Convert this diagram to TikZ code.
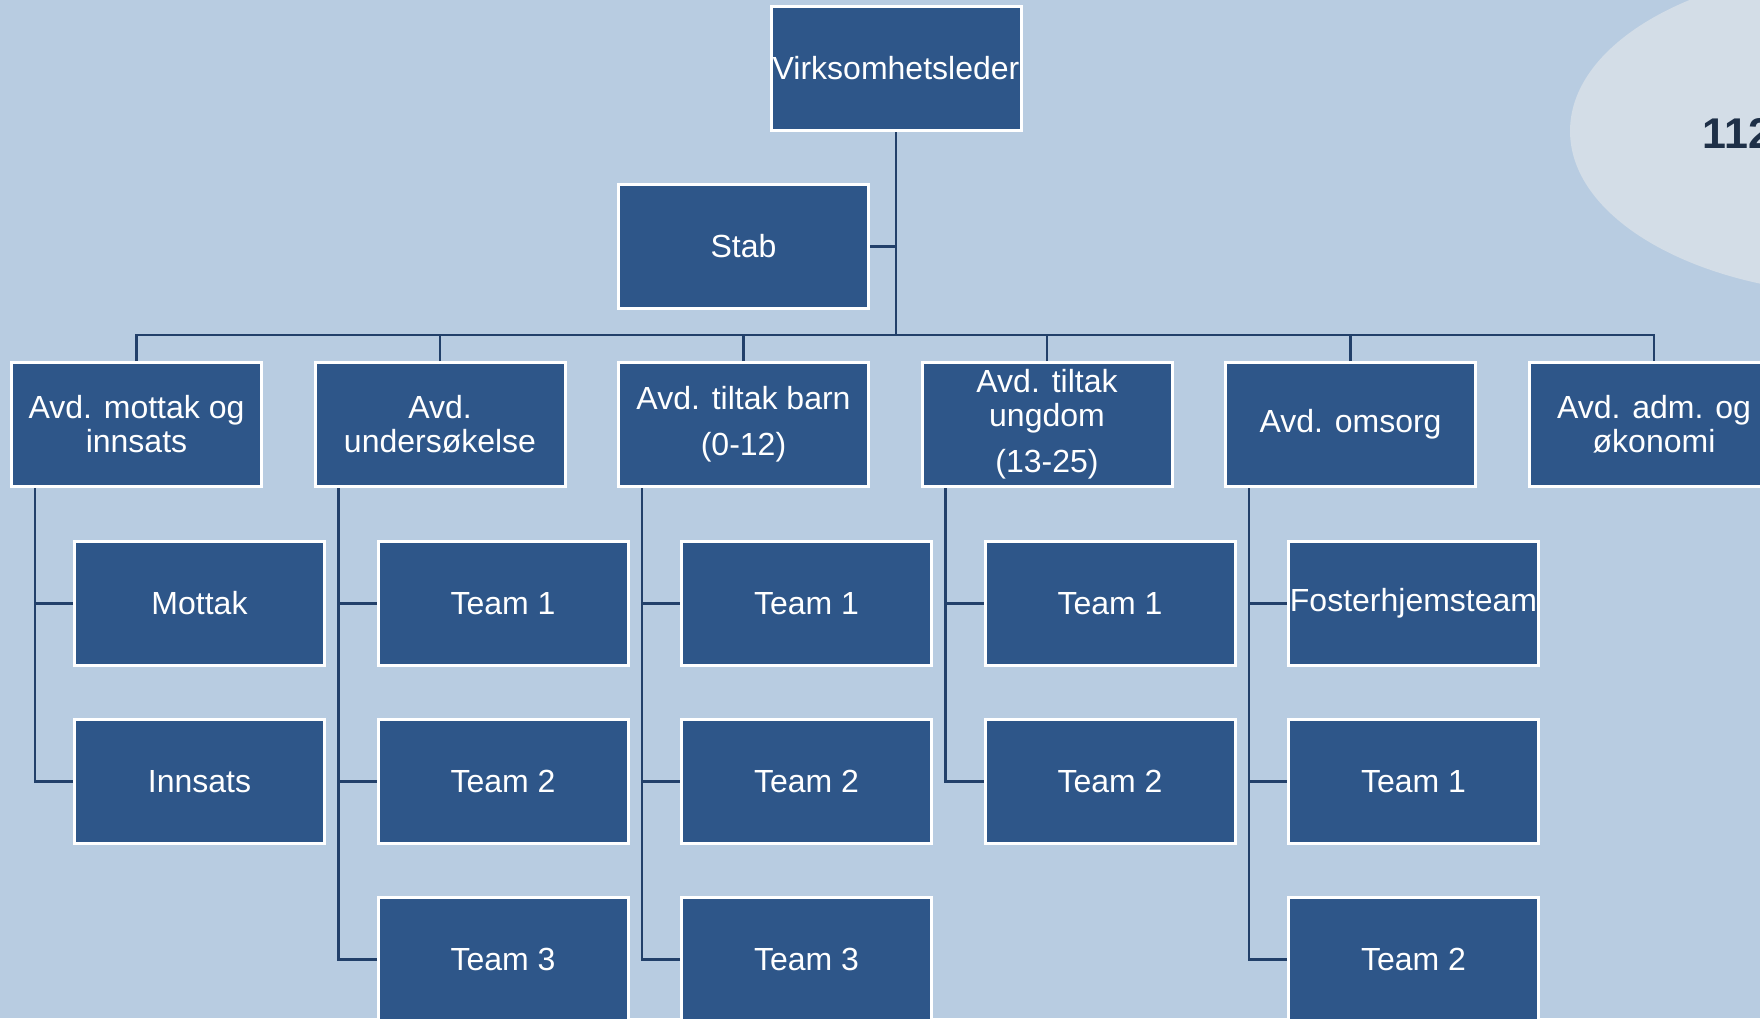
\documentclass[tikz,border=0pt]{standalone}
\usepackage{fontspec}
\setmainfont{Liberation Sans}
\definecolor{bg}{HTML}{B8CCE1}
\definecolor{boxfill}{HTML}{2E5689}
\definecolor{conn}{HTML}{22406A}
\definecolor{ell}{HTML}{D3DDE7}
\definecolor{numc}{HTML}{1E3048}
\begin{document}
\begin{tikzpicture}[x=1pt,y=-1pt,
  orgbox/.style={draw=white, line width=3pt, fill=boxfill, text=white,
    minimum width=250pt, minimum height=124pt, inner sep=0pt, align=center,
    font=\fontsize{32}{34}\selectfont},
  link/.style={draw=conn, line width=2.6pt}]
\useasboundingbox (0,0) rectangle (1760,1018);
\clip (0,0) rectangle (1760,1018);
\fill[bg] (0,0) rectangle (1760,1018);
\fill[ell] (1870,131) ellipse [x radius=300, y radius=164];
\node[anchor=base west, text=numc, font=\fontsize{43}{45}\selectfont\bfseries] (num) at (1699,148) {112};

\node[orgbox] (virk) at (896,68.5) {Virksomhetsleder};
\node[orgbox] (stab) at (743.5,246.5) {Stab};
\coordinate (bus) at (896,335);

\node[orgbox] (c1) at (136.5,424.5) {Avd. mottak og\\innsats};
\node[orgbox] (c2) at (440,424.5) {Avd.\\undersøkelse};
\node[orgbox] (c3) at (743.5,424.5) {Avd. tiltak barn\\[12pt](0-12)};
\node[orgbox] (c4) at (1047,424.5) {Avd. tiltak\\ungdom\\[12pt](13-25)};
\node[orgbox] (c5) at (1350.5,424.5) {Avd. omsorg};
\node[orgbox] (c6) at (1654,424.5) {Avd. adm. og\\økonomi};

\node[orgbox] (c1a) at (199.5,603.5) {Mottak};
\node[orgbox] (c1b) at (199.5,781.5) {Innsats};
\node[orgbox] (c2a) at (503,603.5) {Team 1};
\node[orgbox] (c2b) at (503,781.5) {Team 2};
\node[orgbox] (c2c) at (503,959.5) {Team 3};
\node[orgbox] (c3a) at (806.5,603.5) {Team 1};
\node[orgbox] (c3b) at (806.5,781.5) {Team 2};
\node[orgbox] (c3c) at (806.5,959.5) {Team 3};
\node[orgbox] (c4a) at (1110,603.5) {Team 1};
\node[orgbox] (c4b) at (1110,781.5) {Team 2};
\node[orgbox] (c5a) at (1413.5,603.5) {Fosterhjemsteam};
\node[orgbox] (c5b) at (1413.5,781.5) {Team 1};
\node[orgbox] (c5c) at (1413.5,959.5) {Team 2};

\draw[link] (virk.south) -- (bus);
\draw[link] (stab.east) -- (stab.east -| virk.south);
\foreach \c in {c1,c2,c3,c4,c5,c6}{\draw[link] (\c.north) |- (bus);}
\foreach \p/\k in {c1/c1a,c1/c1b,c2/c2a,c2/c2b,c2/c2c,c3/c3a,c3/c3b,c3/c3c,c4/c4a,c4/c4b,c5/c5a,c5/c5b,c5/c5c}{
  \draw[link] ([xshift=25pt]\p.south west) |- (\k.west);}
\end{tikzpicture}
\end{document}
